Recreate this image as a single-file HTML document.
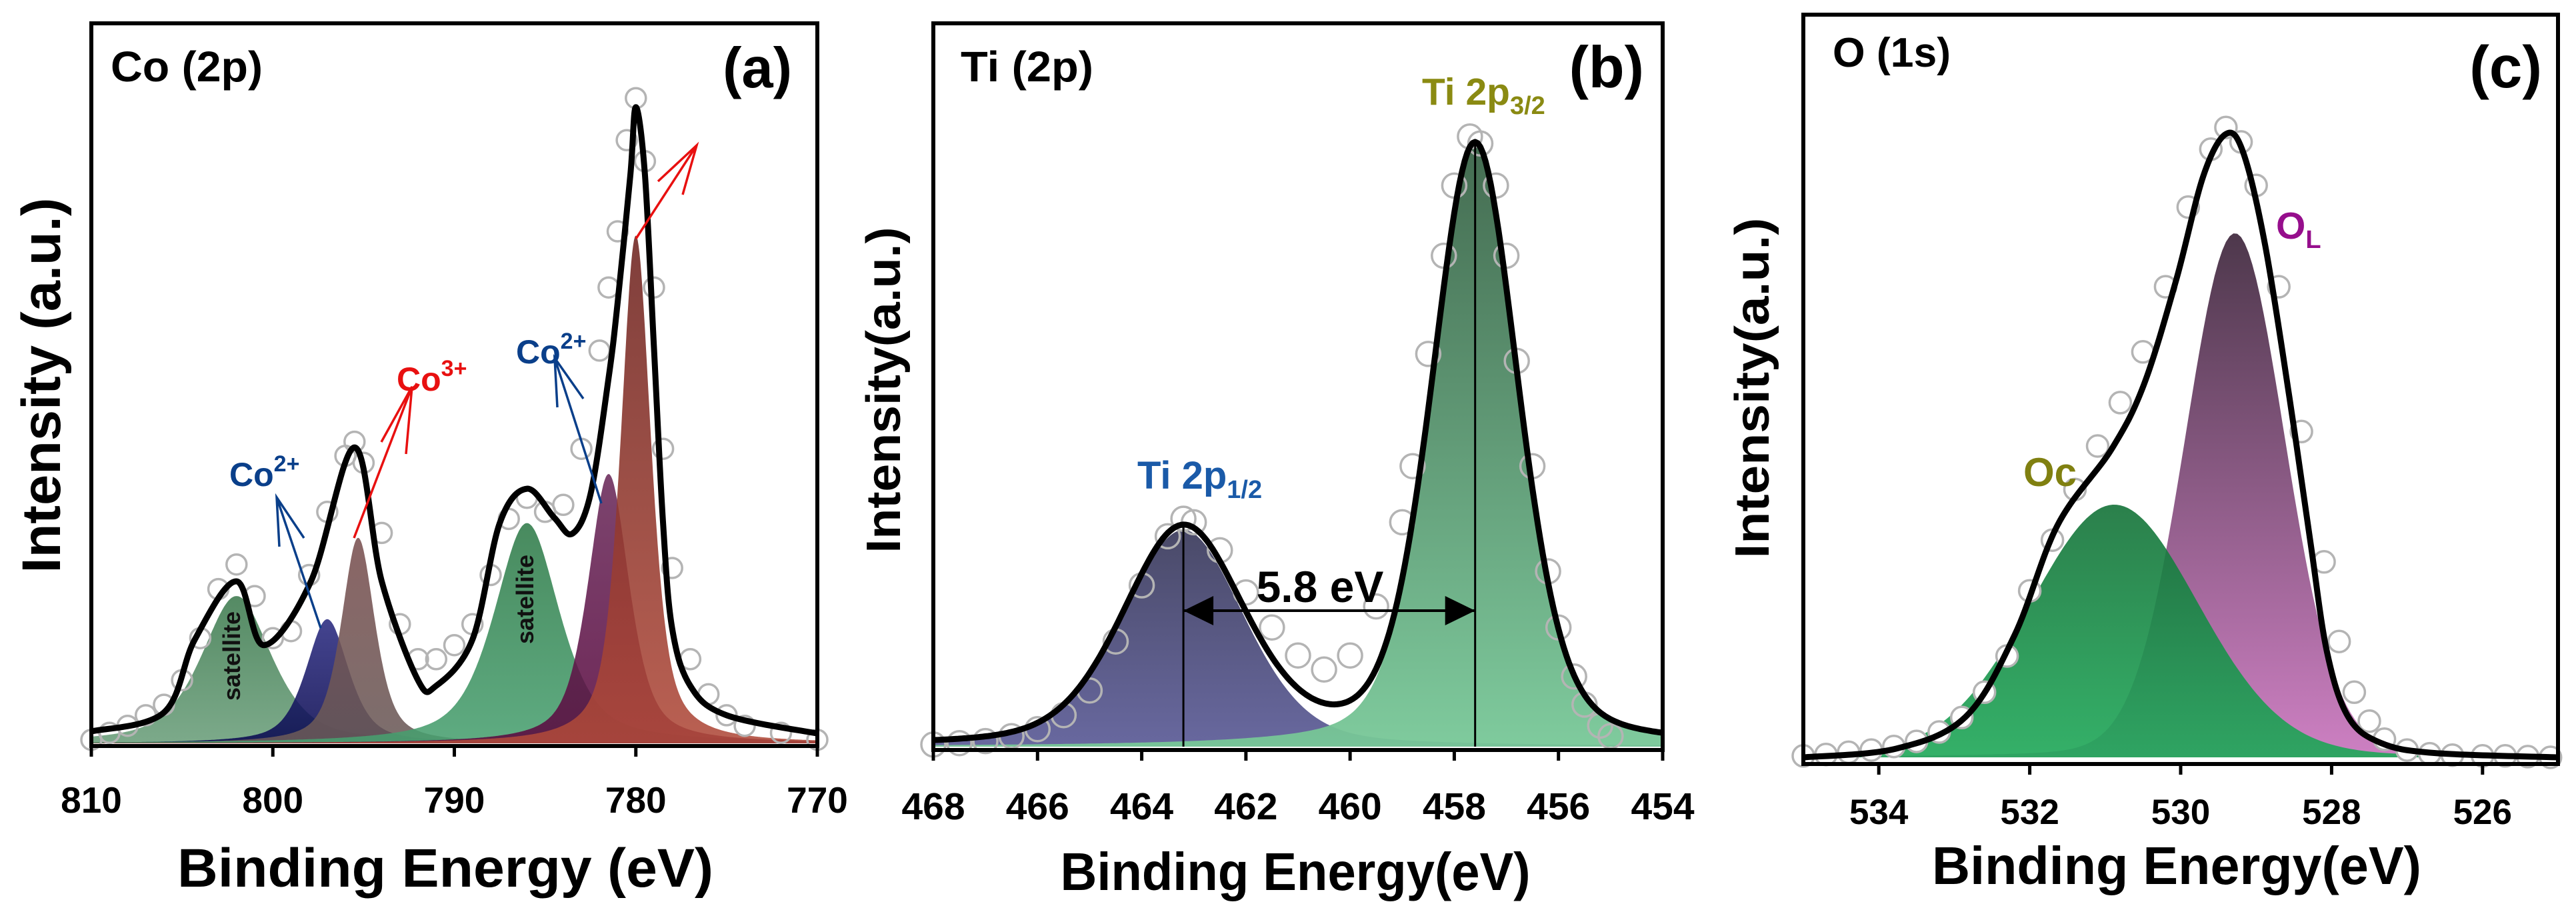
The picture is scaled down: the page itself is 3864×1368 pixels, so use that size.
<!DOCTYPE html>
<html><head><meta charset="utf-8">
<style>
html,body{margin:0;padding:0;background:#fff;}
svg{display:block;}
text{font-family:"Liberation Sans",Arial,sans-serif;font-weight:bold;}
</style></head>
<body>
<svg id="fig" width="3864" height="1368" viewBox="0 0 3864 1368" xmlns="http://www.w3.org/2000/svg">
<defs>
<linearGradient id="gSatA" x1="0" y1="0" x2="0" y2="1"><stop offset="0" stop-color="#3d7a4e"/><stop offset="1" stop-color="#6a9e7a"/></linearGradient>
<linearGradient id="gNavy" x1="0" y1="0" x2="0" y2="1"><stop offset="0" stop-color="#2a2a80"/><stop offset="1" stop-color="#0a0a50"/></linearGradient>
<linearGradient id="gBrown" x1="0" y1="0" x2="0" y2="1"><stop offset="0" stop-color="#7a5050"/><stop offset="1" stop-color="#6a5a58"/></linearGradient>
<linearGradient id="gSatB" x1="0" y1="0" x2="0" y2="1"><stop offset="0" stop-color="#2f7a48"/><stop offset="1" stop-color="#48a070"/></linearGradient>
<linearGradient id="gPurp" x1="0" y1="0" x2="0" y2="1"><stop offset="0" stop-color="#6a2a5a"/><stop offset="1" stop-color="#5a0a40"/></linearGradient>
<linearGradient id="gRed" x1="0" y1="0" x2="0" y2="1"><stop offset="0" stop-color="#6e2420"/><stop offset="1" stop-color="#b04a3a"/></linearGradient>
<linearGradient id="gTi1" x1="0" y1="0" x2="0" y2="1"><stop offset="0" stop-color="#404060"/><stop offset="1" stop-color="#60609a"/></linearGradient>
<linearGradient id="gTi3" x1="0" y1="0" x2="0" y2="1"><stop offset="0" stop-color="#3a6448"/><stop offset="1" stop-color="#78c898"/></linearGradient>
<linearGradient id="gOL" x1="0" y1="0" x2="0" y2="1"><stop offset="0" stop-color="#3a2238"/><stop offset="1" stop-color="#c872bc"/></linearGradient>
<linearGradient id="gOc" x1="0" y1="0" x2="0" y2="1"><stop offset="0" stop-color="#147238"/><stop offset="1" stop-color="#1ea858"/></linearGradient>
</defs>
<g id="layerA"></g>
<g id="layerB"></g>
<g id="layerC"></g>

<!-- Panel A text -->
<text x="166" y="122" font-size="64" textLength="228" lengthAdjust="spacingAndGlyphs">Co (2p)</text>
<text x="1188" y="131" font-size="85" text-anchor="end">(a)</text>
<text x="668" y="1330" font-size="82" text-anchor="middle" textLength="804" lengthAdjust="spacingAndGlyphs">Binding Energy (eV)</text>
<text transform="translate(90,578) rotate(-90)" font-size="82" text-anchor="middle" textLength="563" lengthAdjust="spacingAndGlyphs">Intensity (a.u.)</text>
<text x="344" y="729" font-size="50" fill="#0a3f8a">Co<tspan font-size="34" dy="-22">2+</tspan></text>
<text x="595" y="586" font-size="50" fill="#e81010">Co<tspan font-size="34" dy="-22">3+</tspan></text>
<text x="774" y="545" font-size="50" fill="#0a3f8a">Co<tspan font-size="34" dy="-22">2+</tspan></text>
<text transform="translate(360,984) rotate(-90)" font-size="36" text-anchor="middle" fill="#111">satellite</text>
<text transform="translate(800,899) rotate(-90)" font-size="36" text-anchor="middle" fill="#111">satellite</text>

<!-- Panel B text -->
<text x="1441" y="122" font-size="64" textLength="199" lengthAdjust="spacingAndGlyphs">Ti (2p)</text>
<text x="2466" y="131" font-size="88" text-anchor="end">(b)</text>
<text x="1943" y="1335" font-size="80" text-anchor="middle" textLength="705" lengthAdjust="spacingAndGlyphs">Binding Energy(eV)</text>
<text transform="translate(1350,585) rotate(-90)" font-size="72" text-anchor="middle" textLength="489" lengthAdjust="spacingAndGlyphs">Intensity(a.u.)</text>
<text x="1706" y="733" font-size="58" fill="#1a5aa8">Ti 2p<tspan font-size="38" dy="14">1/2</tspan></text>
<text x="2133" y="157" font-size="57" fill="#8a8a12">Ti 2p<tspan font-size="38" dy="14">3/2</tspan></text>
<text x="1980" y="903" font-size="66" text-anchor="middle">5.8 eV</text>

<!-- Panel C text -->
<text x="2749" y="100" font-size="62" textLength="177" lengthAdjust="spacingAndGlyphs">O (1s)</text>
<text x="3813" y="131" font-size="89" text-anchor="end">(c)</text>
<text x="3265" y="1326" font-size="80" text-anchor="middle" textLength="734" lengthAdjust="spacingAndGlyphs">Binding Energy(eV)</text>
<text transform="translate(2653,582) rotate(-90)" font-size="72" text-anchor="middle" textLength="511" lengthAdjust="spacingAndGlyphs">Intensity(a.u.)</text>
<text x="3414" y="358" font-size="57" fill="#960e8c">O<tspan font-size="38" dy="14">L</tspan></text>
<text x="3035" y="729" font-size="60" fill="#808010">Oc</text>
</svg>
<script>
// ---------- Panel A data (Co 2p) ----------
const aTicks = [810, 800, 790, 780, 770];
const aCompNames = ['satellite-802', 'co2-797', 'co3-795', 'satellite-786', 'co2-781', 'co3-780'];
const aCompCenters = [802, 797, 795.3, 786, 781.5, 780];
const aCompHeights = [210, 177, 293, 314, 384, 724];
const aCompWidths = [4.6, 2.8, 2.2, 4.3, 2.7, 2.0];
const aCompFills = ['url(#gSatA)', 'url(#gNavy)', 'url(#gBrown)', 'url(#gSatB)', 'url(#gPurp)', 'url(#gRed)'];
const aFitE = [810, 806, 804.3, 802, 800.5, 797.9, 795.5, 794, 792, 791, 789, 787.5, 786, 784.5, 783.5, 782.5, 781.5, 781, 780.3, 780, 779.5, 779, 778.5, 778, 777, 775, 770];
const aFitI = [17, 44, 148, 231, 140, 231, 422, 231, 90, 82, 148, 314, 363, 322, 299, 355, 521, 629, 811, 907, 811, 563, 314, 164, 82, 40, 14];
const aDataE = [810, 809, 808, 807, 806, 805, 804, 803, 802, 801, 800, 799, 798, 797, 796, 795.5, 795, 794, 793, 792, 791, 790, 789, 788, 787, 786, 785, 784, 783, 782, 781.5, 781, 780.5, 780, 779.5, 779, 778.5, 778, 777, 776, 775, 774, 772, 770];
const aDataI = [5, 15, 25, 40, 55, 90, 150, 220, 255, 210, 150, 160, 240, 330, 410, 430, 400, 300, 170, 120, 120, 140, 170, 240, 320, 350, 330, 340, 420, 560, 650, 730, 860, 920, 830, 650, 420, 250, 120, 70, 40, 25, 15, 5];

// ---------- Panel B data (Ti 2p) ----------
const bTicks = [468, 466, 464, 462, 460, 458, 456, 454];
const bCompNames = ['ti-2p12', 'ti-2p32'];
const bCompCenters = [463.2, 457.6];
const bCompHeights = [309, 857];
const bCompWidths = [2.76, 1.96];
const bCompFills = ['url(#gTi1)', 'url(#gTi3)'];
const bDataE = [468, 467.5, 467, 466.5, 466, 465.5, 465, 464.5, 464, 463.5, 463.2, 463, 462.5, 462, 461.5, 461, 460.5, 460, 459.5, 459, 458.8, 458.5, 458.2, 458, 457.7, 457.5, 457.2, 457, 456.8, 456.5, 456.2, 456, 455.7, 455.5, 455.2, 455];
const bDataI = [3, 5, 8, 15, 25, 45, 80, 150, 230, 300, 325, 320, 280, 220, 170, 130, 110, 130, 200, 320, 400, 560, 700, 800, 870, 860, 800, 700, 550, 400, 250, 170, 100, 60, 30, 15];

// ---------- Panel C data (O 1s) ----------
const cTicks = [534, 532, 530, 528, 526];
const cCompNames = ['ol', 'oc'];
const cCompCenters = [529.28, 530.88];
const cCompHeights = [724, 349];
const cCompWidths = [1.57, 2.64];
const cCompFills = ['url(#gOL)', 'url(#gOc)'];
const cFitE = [535, 533.77, 532.85, 532.2, 531.63, 530.92, 530.49, 530.06, 529.7, 529.4, 529.17, 528.88, 528.56, 528.28, 528.06, 527.78, 527.35, 526.64, 525];
const cFitI = [0, 12, 56, 169, 321, 425, 514, 659, 803, 861, 835, 707, 498, 297, 145, 56, 20, 6, 0];
const cDataE = [535, 534.7, 534.4, 534.1, 533.8, 533.5, 533.2, 532.9, 532.6, 532.3, 532, 531.7, 531.4, 531.1, 530.8, 530.5, 530.2, 529.9, 529.6, 529.4, 529.2, 529, 528.7, 528.4, 528.1, 527.9, 527.7, 527.5, 527.3, 527, 526.7, 526.4, 526, 525.7, 525.4, 525.1];
const cDataI = [2, 4, 7, 10, 15, 22, 35, 55, 90, 140, 230, 300, 370, 430, 490, 560, 650, 760, 840, 870, 850, 790, 650, 450, 270, 160, 90, 50, 25, 10, 5, 3, 2, 2, 1, 0];

const NS = 'http://www.w3.org/2000/svg';
function mk(tag, attrs, parent) {
  const el = document.createElementNS(NS, tag);
  for (const k in attrs) el.setAttribute(k, attrs[k]);
  parent.appendChild(el);
  return el;
}
function pv(e, c, h, w, eta) {
  const d = (e - c) / (w / 2);
  const L = 1 / (1 + d * d);
  const G = Math.exp(-Math.LN2 * d * d);
  return h * (eta * L + (1 - eta) * G);
}
function smoothPath(pts) {
  let d = 'M' + pts[0][0].toFixed(1) + ',' + pts[0][1].toFixed(1);
  for (let i = 0; i < pts.length - 1; i++) {
    const p0 = pts[Math.max(0, i - 1)], p1 = pts[i], p2 = pts[i + 1], p3 = pts[Math.min(pts.length - 1, i + 2)];
    const c1 = [p1[0] + (p2[0] - p0[0]) / 6, p1[1] + (p2[1] - p0[1]) / 6];
    const c2 = [p2[0] - (p3[0] - p1[0]) / 6, p2[1] - (p3[1] - p1[1]) / 6];
    d += ' C' + c1[0].toFixed(1) + ',' + c1[1].toFixed(1) + ' ' + c2[0].toFixed(1) + ',' + c2[1].toFixed(1) + ' ' + p2[0].toFixed(1) + ',' + p2[1].toFixed(1);
  }
  return d;
}

function drawPanel(cfg) {
  const g = document.getElementById(cfg.layer);
  const X = e => cfg.left + (cfg.eMax - e) / (cfg.eMax - cfg.eMin) * (cfg.right - cfg.left);
  const Y = v => cfg.base - v * cfg.k;
  for (let i = 0; i < cfg.cc.length; i++) {
    let d = '';
    for (let e = cfg.eMax; e >= cfg.eMin - 1e-9; e -= 0.05) {
      const v = pv(e, cfg.cc[i], cfg.ch[i], cfg.cw[i], cfg.eta);
      d += (d ? ' L' : 'M') + X(e).toFixed(1) + ',' + Y(v).toFixed(1);
    }
    d += ' L' + X(cfg.eMin).toFixed(1) + ',' + cfg.base + ' L' + X(cfg.eMax).toFixed(1) + ',' + cfg.base + ' Z';
    const p = mk('path', {d: d, fill: cfg.cf[i], 'fill-opacity': cfg.op}, g);
    
    
  }
  for (let i = 0; i < cfg.de.length; i++) {
    const c = mk('circle', {cx: X(cfg.de[i]).toFixed(1), cy: Y(cfg.di[i]).toFixed(1), r: cfg.r, fill: cfg.cfill, stroke: '#b4b4b4', 'stroke-width': 3.5}, g);
    
    
  }
  let fd;
  if (cfg.fe) {
    fd = smoothPath(cfg.fe.map((e, i) => [X(e), Y(cfg.fi[i])]));
  } else {
    fd = '';
    for (let e = cfg.eMax; e >= cfg.eMin - 1e-9; e -= 0.05) {
      let s = 0;
      for (let i = 0; i < cfg.cc.length; i++) s += pv(e, cfg.cc[i], cfg.ch[i], cfg.cw[i], cfg.eta);
      fd += (fd ? ' L' : 'M') + X(e).toFixed(1) + ',' + Y(s).toFixed(1);
    }
  }
  const f = mk('path', {d: fd, fill: 'none', stroke: '#000', 'stroke-width': 9, 'stroke-linejoin': 'round'}, g);
  
  
  const fr = mk('rect', {x: cfg.left, y: cfg.top, width: cfg.right - cfg.left, height: cfg.axis - cfg.top, fill: 'none', stroke: '#000', 'stroke-width': 6}, g);
  
  
  for (let i = 0; i < cfg.ticks.length; i++) {
    const x = X(cfg.ticks[i]);
    const t = mk('line', {x1: x, x2: x, y1: cfg.axis, y2: cfg.axis + 16, stroke: '#000', 'stroke-width': 5}, g);
    
    
    const lb = mk('text', {x: x, y: cfg.tickY, 'font-size': cfg.tickFont, 'text-anchor': 'middle'}, g);
    
    
    lb.textContent = cfg.ticks[i];
  }
  return {X: X, Y: Y, g: g};
}

const A = drawPanel({layer: 'layerA', left: 137, right: 1226, top: 35, axis: 1119, base: 1115, k: 1.052, eMax: 810, eMin: 770,
  cn: aCompNames, cc: aCompCenters, ch: aCompHeights, cw: aCompWidths, cf: aCompFills, eta: 0.6, op: 0.88,
  fe: aFitE, fi: aFitI, de: aDataE, di: aDataI, r: 15, cfill: 'none', ticks: aTicks, tickY: 1219, tickFont: 55});
const B = drawPanel({layer: 'layerB', left: 1400, right: 2494, top: 35, axis: 1125, base: 1120, k: 1.052, eMax: 468, eMin: 454,
  cn: bCompNames, cc: bCompCenters, ch: bCompHeights, cw: bCompWidths, cf: bCompFills, eta: 0.3, op: 0.95,
  fe: null, de: bDataE, di: bDataI, r: 18, cfill: 'none', ticks: bTicks, tickY: 1229, tickFont: 57});
const C = drawPanel({layer: 'layerC', left: 2705, right: 3837, top: 22, axis: 1146, base: 1136, k: 1.086, eMax: 535, eMin: 525,
  cn: cCompNames, cc: cCompCenters, ch: cCompHeights, cw: cCompWidths, cf: cCompFills, eta: 0.1, op: 0.9,
  fe: cFitE, fi: cFitI, de: cDataE, di: cDataI, r: 16, cfill: '#fff', ticks: cTicks, tickY: 1236, tickFont: 53});

const arrowDefs = [
  ['co2-arrow-left', '#0a3f8a', [481, 942], [415, 746], [419, 820], [456, 807]],
  ['co2-arrow-right', '#0a3f8a', [902, 755], [832, 537], [836, 611], [875, 598]],
  ['co3-arrow-left', '#e81010', [531, 807], [618, 580], [572, 663], [609, 681]],
  ['co3-arrow-right', '#e81010', [954, 358], [1045, 218], [987, 272], [1024, 292]]
];
for (const a of arrowDefs) {
  const p = mk('path', {d: 'M' + a[2] + ' L' + a[3] + ' M' + a[4] + ' L' + a[3] + ' L' + a[5], fill: 'none', stroke: a[1], 'stroke-width': 3.5}, A.g);
  
  
}

for (let i = 0; i < bCompCenters.length; i++) {
  const x = B.X(bCompCenters[i]);
  const top = B.Y(pv(bCompCenters[i], bCompCenters[0], bCompHeights[0], bCompWidths[0], 0.3) + pv(bCompCenters[i], bCompCenters[1], bCompHeights[1], bCompWidths[1], 0.3));
  const l = mk('line', {x1: x, x2: x, y1: 1120, y2: top, stroke: '#000', 'stroke-width': 3}, B.g);
  
  
}
const x1 = B.X(bCompCenters[0]), x2 = B.X(bCompCenters[1]), ya = 916;
const sa = mk('path', {d: 'M' + x1 + ',' + ya + ' L' + x2 + ',' + ya, stroke: '#000', 'stroke-width': 4, fill: 'none'}, B.g);


const h1 = mk('path', {d: 'M' + x1 + ',' + ya + ' l45,-22 l0,44 Z M' + x2 + ',' + ya + ' l-45,-22 l0,44 Z', fill: '#000'}, B.g);


</script>
</body></html>
